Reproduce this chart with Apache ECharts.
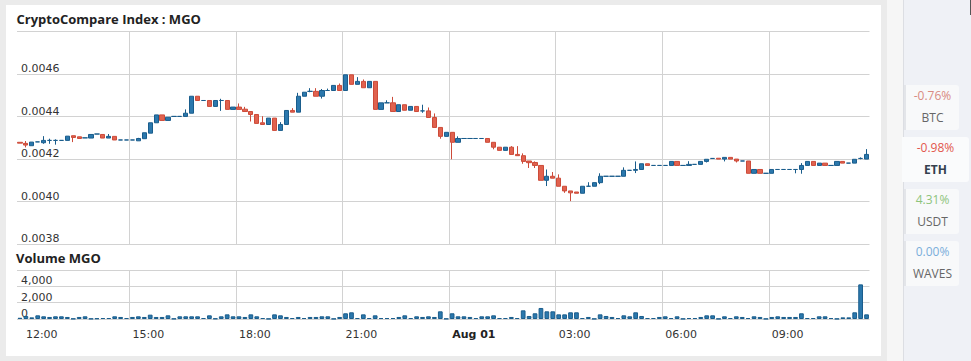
<!DOCTYPE html>
<html>
<head>
<meta charset="utf-8">
<script src="https://cdn.jsdelivr.net/npm/echarts@6/dist/echarts.min.js"></script>
<style>
html,body{margin:0;padding:0;width:971px;height:361px;overflow:hidden;background:#ebebeb;font-family:"Open Sans",sans-serif;}
#chart{position:absolute;left:6px;top:5px;width:875px;height:351px;background:#fff;}
#gap{position:absolute;left:887px;top:0;width:16px;height:361px;background:#f6f6f6;}
#side{position:absolute;left:903px;top:0;width:68px;height:361px;background:#eff1f6;border-left:1px solid #dcdee3;box-sizing:border-box;}
.card{position:absolute;left:904px;width:55px;height:45px;background:#f8f9fa;border-radius:0 3px 3px 0;border-left:2px solid #e3e5e9;box-sizing:border-box;}
.card.sel{left:902px;width:67px;background:#fafbfc;border-left:none;}
.pct,.name{position:absolute;left:0;right:0;text-align:center;font-size:12px;line-height:14px;white-space:nowrap;}
.pct{top:3.5px}
.name{top:25.7px;color:#666}
.sel .name{font-weight:700;color:#34404e}
#scroll{position:absolute;left:969.5px;top:0;width:1.5px;height:15px;background:#555;}
</style>
</head>
<body>
<div id="gap"></div>
<div id="side"></div>
<div id="scroll"></div>
<div id="chart"></div>
<script>
// ---------- data ----------
const categories = [
"11:50",
"12:00","12:10","12:20","12:30","12:40","12:50",
"13:00","13:10","13:20","13:30","13:40","13:50",
"14:00","14:10","14:20","14:30","14:40","14:50",
"15:00","15:10","15:20","15:30","15:40","15:50",
"16:00","16:10","16:20","16:30","16:40","16:50",
"17:00","17:10","17:20","17:30","17:40","17:50",
"18:00","18:10","18:20","18:30","18:40","18:50",
"19:00","19:10","19:20","19:30","19:40","19:50",
"20:00","20:10","20:20","20:30","20:40","20:50",
"21:00","21:10","21:20","21:30","21:40","21:50",
"22:00","22:10","22:20","22:30","22:40","22:50",
"23:00","23:10","23:20","23:30","23:40","23:50",
"00:00","00:10","00:20","00:30","00:40","00:50",
"01:00","01:10","01:20","01:30","01:40","01:50",
"02:00","02:10","02:20","02:30","02:40","02:50",
"03:00","03:10","03:20","03:30","03:40","03:50",
"04:00","04:10","04:20","04:30","04:40","04:50",
"05:00","05:10","05:20","05:30","05:40","05:50",
"06:00","06:10","06:20","06:30","06:40","06:50",
"07:00","07:10","07:20","07:30","07:40","07:50",
"08:00","08:10","08:20","08:30","08:40","08:50",
"09:00","09:10","09:20","09:30","09:40","09:50",
"10:00","10:10","10:20","10:30","10:40","10:50",
"11:00","11:10","11:20","11:30","11:40"
];

const opens = [
0.004279,0.004274,0.004263,0.004281,0.004277,0.004288,0.004288,0.004288,0.004288,0.004310,0.004305,0.004300,
0.004299,0.004318,0.004316,0.004299,0.004307,0.004290,0.004290,0.004290,0.004286,0.004296,0.004322,0.004371,
0.004408,0.004382,0.004401,0.004401,0.004401,0.004416,0.004496,0.004476,0.004476,0.004448,0.004476,0.004476,
0.004434,0.004445,0.004435,0.004424,0.004410,0.004371,0.004363,0.004393,0.004335,0.004363,0.004429,0.004421,
0.004496,0.004519,0.004519,0.004496,0.004523,0.004523,0.004547,0.004523,0.004597,0.004552,0.004566,0.004536,
0.004566,0.004434,0.004465,0.004465,0.004424,0.004456,0.004430,0.004448,0.004427,0.004427,0.004396,0.004349,
0.004307,0.004326,0.004279,0.004297,0.004297,0.004297,0.004297,0.004297,0.004279,0.004256,0.004241,0.004256,
0.004222,0.004216,0.004191,0.004184,0.004170,0.004100,0.004119,0.004110,0.004072,0.004050,0.004045,0.004039,
0.004072,0.004072,0.004089,0.004119,0.004119,0.004119,0.004119,0.004147,0.004147,0.004151,0.004178,0.004170,
0.004170,0.004170,0.004170,0.004189,0.004170,0.004170,0.004175,0.004175,0.004189,0.004203,0.004204,0.004200,
0.004208,0.004200,0.004191,0.004191,0.004133,0.004151,0.004133,0.004133,0.004151,0.004151,0.004151,0.004151,
0.004151,0.004170,0.004189,0.004170,0.004181,0.004170,0.004170,0.004189,0.004181,0.004181,0.004203,0.004200
];
const closes = [
0.004275,0.004266,0.004280,0.004281,0.004288,0.004288,0.004288,0.004288,0.004308,0.004302,0.004297,0.004300,
0.004316,0.004318,0.004299,0.004307,0.004290,0.004290,0.004290,0.004290,0.004297,0.004324,0.004371,0.004408,
0.004382,0.004397,0.004401,0.004401,0.004416,0.004496,0.004476,0.004476,0.004448,0.004476,0.004476,0.004434,
0.004445,0.004434,0.004424,0.004410,0.004368,0.004363,0.004393,0.004335,0.004363,0.004429,0.004421,0.004496,
0.004515,0.004519,0.004496,0.004523,0.004523,0.004547,0.004523,0.004597,0.004552,0.004566,0.004536,0.004566,
0.004434,0.004465,0.004465,0.004424,0.004456,0.004430,0.004448,0.004424,0.004427,0.004396,0.004349,0.004307,
0.004326,0.004279,0.004297,0.004297,0.004297,0.004297,0.004297,0.004279,0.004256,0.004241,0.004256,0.004222,
0.004216,0.004189,0.004183,0.004170,0.004100,0.004119,0.004110,0.004072,0.004050,0.004041,0.004039,0.004072,
0.004072,0.004089,0.004119,0.004119,0.004119,0.004119,0.004147,0.004147,0.004151,0.004178,0.004170,0.004170,
0.004170,0.004170,0.004189,0.004170,0.004170,0.004175,0.004175,0.004189,0.004199,0.004203,0.004200,0.004208,
0.004200,0.004191,0.004191,0.004133,0.004151,0.004133,0.004133,0.004151,0.004151,0.004151,0.004151,0.004151,
0.004170,0.004189,0.004170,0.004181,0.004170,0.004170,0.004189,0.004181,0.004181,0.004199,0.004203,0.004222
];
const lows = [
0.004275,0.004255,0.004263,0.004281,0.004272,0.004272,0.004268,0.004288,0.004288,0.004280,0.004297,0.004300,
0.004299,0.004318,0.004299,0.004299,0.004290,0.004290,0.004290,0.004290,0.004286,0.004296,0.004322,0.004371,
0.004382,0.004382,0.004401,0.004401,0.004401,0.004416,0.004476,0.004476,0.004448,0.004448,0.004427,0.004434,
0.004434,0.004434,0.004424,0.004377,0.004368,0.004363,0.004363,0.004335,0.004335,0.004363,0.004421,0.004421,
0.004496,0.004515,0.004496,0.004485,0.004523,0.004523,0.004523,0.004523,0.004552,0.004552,0.004536,0.004536,
0.004434,0.004434,0.004465,0.004424,0.004424,0.004430,0.004430,0.004424,0.004418,0.004396,0.004349,0.004296,
0.004307,0.004199,0.004279,0.004297,0.004297,0.004297,0.004297,0.004279,0.004246,0.004241,0.004241,0.004222,
0.004216,0.004178,0.004158,0.004158,0.004100,0.004073,0.004110,0.004072,0.004041,0.004002,0.004039,0.004039,
0.004072,0.004072,0.004082,0.004119,0.004119,0.004119,0.004119,0.004147,0.004134,0.004151,0.004170,0.004170,
0.004170,0.004170,0.004170,0.004170,0.004170,0.004170,0.004175,0.004175,0.004184,0.004203,0.004200,0.004189,
0.004200,0.004184,0.004191,0.004133,0.004133,0.004133,0.004133,0.004133,0.004151,0.004151,0.004151,0.004133,
0.004131,0.004170,0.004170,0.004170,0.004170,0.004170,0.004170,0.004181,0.004181,0.004181,0.004199,0.004200
];
const highs = [
0.004279,0.004285,0.004280,0.004281,0.004308,0.004296,0.004293,0.004288,0.004308,0.004310,0.004305,0.004300,
0.004316,0.004318,0.004316,0.004318,0.004307,0.004290,0.004290,0.004290,0.004300,0.004324,0.004371,0.004408,
0.004408,0.004397,0.004401,0.004401,0.004434,0.004496,0.004496,0.004476,0.004476,0.004476,0.004484,0.004476,
0.004445,0.004462,0.004446,0.004424,0.004410,0.004402,0.004393,0.004393,0.004374,0.004429,0.004440,0.004512,
0.004515,0.004534,0.004534,0.004530,0.004532,0.004547,0.004556,0.004597,0.004597,0.004586,0.004575,0.004566,
0.004566,0.004465,0.004477,0.004493,0.004456,0.004456,0.004448,0.004448,0.004456,0.004443,0.004415,0.004349,
0.004326,0.004326,0.004307,0.004297,0.004297,0.004297,0.004297,0.004297,0.004279,0.004256,0.004256,0.004261,
0.004261,0.004227,0.004191,0.004189,0.004170,0.004151,0.004139,0.004128,0.004072,0.004050,0.004045,0.004072,
0.004091,0.004089,0.004133,0.004119,0.004119,0.004119,0.004161,0.004147,0.004189,0.004178,0.004178,0.004170,
0.004170,0.004170,0.004189,0.004189,0.004170,0.004190,0.004175,0.004189,0.004199,0.004203,0.004204,0.004208,
0.004208,0.004200,0.004191,0.004191,0.004151,0.004151,0.004133,0.004151,0.004151,0.004151,0.004151,0.004151,
0.004181,0.004189,0.004189,0.004181,0.004181,0.004170,0.004189,0.004189,0.004181,0.004199,0.004208,0.004247
];
const volumes = [
150,370,200,450,330,250,330,330,250,40,250,330,
40,80,120,120,330,250,120,250,330,250,530,250,
250,450,40,330,330,330,330,120,450,60,330,570,
330,330,250,570,330,120,30,570,450,250,120,250,
120,250,250,330,330,30,250,700,820,120,570,120,
450,120,120,120,250,450,120,330,250,330,250,940,
40,700,330,330,250,120,330,330,450,120,120,250,
120,1060,370,700,1350,940,940,570,570,820,820,120,
250,30,570,370,250,120,450,330,820,370,120,120,
250,330,120,330,30,120,120,250,450,450,30,330,
120,330,250,120,330,250,30,250,330,250,250,250,
700,120,120,330,330,120,30,200,200,820,4240,570
];

const tickTimes  = ["12:00","15:00","18:00","21:00","00:00","03:00","06:00","09:00"];
const tickLabels = ["12:00","15:00","18:00","21:00","Aug 01","03:00","06:00","09:00"];
const boldTicks  = ["Aug 01"];

const priceTicks = [0.0038, 0.0048, 0.0002]; // min, max, step
const volumeTicks = [0, 6000, 2000];

const sideSymbols = ["BTC","ETH","USDT","WAVES"];
const sideChanges = ["-0.76%","-0.98%","4.31%","0.00%"];
const sideColors  = ["#d98b82","#e2574c","#8ec47c","#7aaedb"];
const sideSelected = "ETH";

// ---------- side panel ----------
const cardTops = [85, 137, 189, 241];
sideSymbols.forEach((s, i) => {
  const c = document.createElement('div');
  c.className = 'card' + (s === sideSelected ? ' sel' : '');
  c.style.top = cardTops[i] + 'px';
  const p = document.createElement('div');
  p.className = 'pct'; p.textContent = sideChanges[i]; p.style.color = sideColors[i];
  const n = document.createElement('div');
  n.className = 'name'; n.textContent = s;
  c.appendChild(p); c.appendChild(n);
  document.body.appendChild(c);
});

// ---------- chart ----------
const UP_FILL = '#2b78ad', UP_BORDER = '#1a5d8c';
const DN_FILL = '#e0624f', DN_BORDER = '#cd4b39';
const GRID_COLOR = '#d2d2d2';
const LABEL_FONT = 'DejaVu Sans';

const isTick = (idx, val) => tickTimes.indexOf(val) >= 0;
const candleRows = opens.map((o, i) => [o, closes[i], lows[i], highs[i]]);

const chart = echarts.init(document.getElementById('chart'), null, {renderer: 'svg'});

const xBase = (gi) => ({
  type: 'category', gridIndex: gi, data: categories, boundaryGap: true,
  axisLine: {show: false}, axisTick: {show: false},
  splitLine: {show: true, interval: isTick, showMinLine: false, showMaxLine: false,
              lineStyle: {color: GRID_COLOR, width: 1}}
});

const yLabel = {
  inside: true, showMaxLabel: false, margin: 4, align: 'left', verticalAlign: 'bottom',
  lineHeight: 11, color: '#333', fontSize: 11, fontFamily: LABEL_FONT
};

chart.setOption({
  animation: false,
  backgroundColor: '#fff',
  textStyle: {fontFamily: LABEL_FONT},
  graphic: [
    {type: 'text', x: 10.5, y: 13.5, style: {text: 'CryptoCompare Index : MGO', font: 'bold 13px "Open Sans"', fill: '#222', verticalAlign: 'middle'}},
    {type: 'text', x: 10, y: 252.5, style: {text: 'Volume MGO', font: 'bold 13px "Open Sans"', fill: '#222', verticalAlign: 'middle'}}
  ],
  grid: [
    {left: 11, top: 26.7, width: 852.5, height: 212.3},
    {left: 11, top: 265, width: 852.5, height: 49}
  ],
  xAxis: [
    Object.assign(xBase(0), {axisLabel: {show: false}}),
    Object.assign(xBase(1), {axisLabel: {
      show: true, interval: isTick, align: 'left', margin: 10, color: '#333', fontSize: 11, fontFamily: LABEL_FONT,
      formatter: (v) => { const t = tickLabels[tickTimes.indexOf(v)]; return boldTicks.indexOf(t) >= 0 ? '{b|' + t + '}' : t; },
      rich: {b: {fontWeight: 'bold', fontSize: 11, fontFamily: LABEL_FONT, color: '#222'}}
    }})
  ],
  yAxis: [
    {type: 'value', gridIndex: 0, min: priceTicks[0], max: priceTicks[1], interval: priceTicks[2],
     axisLine: {show: false}, axisTick: {show: false},
     axisLabel: Object.assign({}, yLabel, {formatter: (v) => v.toFixed(4)}),
     splitLine: {show: true, lineStyle: {color: GRID_COLOR, width: 1}}},
    {type: 'value', gridIndex: 1, min: volumeTicks[0], max: volumeTicks[1], interval: volumeTicks[2],
     axisLine: {show: false}, axisTick: {show: false},
     axisLabel: Object.assign({}, yLabel, {formatter: (v) => v.toLocaleString('en-US')}),
     splitLine: {show: true, lineStyle: {color: GRID_COLOR, width: 1}}}
  ],
  series: [
    {type: 'candlestick', name: 'MGO', xAxisIndex: 0, yAxisIndex: 0, data: candleRows,
     barWidth: '80%',
     itemStyle: {color: UP_FILL, color0: DN_FILL, borderColor: UP_BORDER, borderColor0: DN_BORDER,
                 borderColorDoji: UP_BORDER, borderWidth: 1}},
    {type: 'bar', name: 'Volume MGO', xAxisIndex: 1, yAxisIndex: 1, data: volumes,
     barWidth: '80%',
     itemStyle: {color: UP_FILL, borderColor: UP_BORDER, borderWidth: 1}}
  ]
});
</script>
</body>
</html>
